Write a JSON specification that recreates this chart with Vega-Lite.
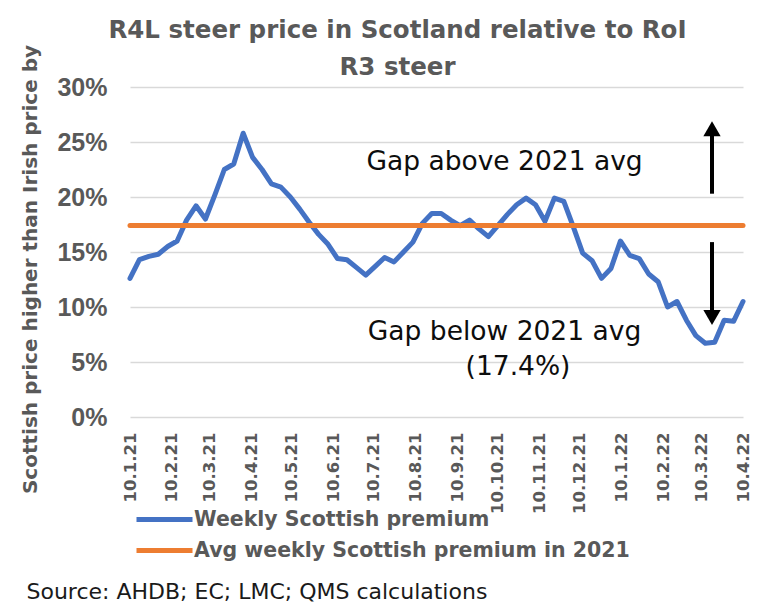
{
  "$schema": "https://vega.github.io/schema/vega-lite/v6.json",
  "width": 613,
  "height": 330,
  "autosize": {"type": "none"},
  "padding": {"left": 130, "top": 87, "right": 15, "bottom": 194},
  "background": "white",
  "config": {"view": {"stroke": null}},
  "title": {
    "text": ["R4L steer price in Scotland relative to RoI", "R3 steer"],
    "font": "DejaVu Sans",
    "fontSize": 24.5,
    "fontWeight": "bold",
    "color": "#595959",
    "anchor": "middle",
    "frame": "group",
    "dx": -39,
    "dy": 42,
    "offset": 6,
    "lineHeight": 37
  },
  "datasets": {
    "series": [
      {"date": "2021-01-10T00:00", "value": 0.126, "series": "Weekly Scottish premium"},
      {"date": "2021-01-17T00:00", "value": 0.143, "series": "Weekly Scottish premium"},
      {"date": "2021-01-24T00:00", "value": 0.146, "series": "Weekly Scottish premium"},
      {"date": "2021-01-31T00:00", "value": 0.148, "series": "Weekly Scottish premium"},
      {"date": "2021-02-07T00:00", "value": 0.155, "series": "Weekly Scottish premium"},
      {"date": "2021-02-14T00:00", "value": 0.160, "series": "Weekly Scottish premium"},
      {"date": "2021-02-21T00:00", "value": 0.179, "series": "Weekly Scottish premium"},
      {"date": "2021-02-28T00:00", "value": 0.192, "series": "Weekly Scottish premium"},
      {"date": "2021-03-07T00:00", "value": 0.180, "series": "Weekly Scottish premium"},
      {"date": "2021-03-14T00:00", "value": 0.202, "series": "Weekly Scottish premium"},
      {"date": "2021-03-21T00:00", "value": 0.225, "series": "Weekly Scottish premium"},
      {"date": "2021-03-28T00:00", "value": 0.230, "series": "Weekly Scottish premium"},
      {"date": "2021-04-04T00:00", "value": 0.258, "series": "Weekly Scottish premium"},
      {"date": "2021-04-11T00:00", "value": 0.236, "series": "Weekly Scottish premium"},
      {"date": "2021-04-18T00:00", "value": 0.225, "series": "Weekly Scottish premium"},
      {"date": "2021-04-25T00:00", "value": 0.212, "series": "Weekly Scottish premium"},
      {"date": "2021-05-02T00:00", "value": 0.209, "series": "Weekly Scottish premium"},
      {"date": "2021-05-09T00:00", "value": 0.200, "series": "Weekly Scottish premium"},
      {"date": "2021-05-16T00:00", "value": 0.189, "series": "Weekly Scottish premium"},
      {"date": "2021-05-23T00:00", "value": 0.177, "series": "Weekly Scottish premium"},
      {"date": "2021-05-30T00:00", "value": 0.166, "series": "Weekly Scottish premium"},
      {"date": "2021-06-06T00:00", "value": 0.157, "series": "Weekly Scottish premium"},
      {"date": "2021-06-13T00:00", "value": 0.144, "series": "Weekly Scottish premium"},
      {"date": "2021-06-20T00:00", "value": 0.143, "series": "Weekly Scottish premium"},
      {"date": "2021-06-27T00:00", "value": 0.136, "series": "Weekly Scottish premium"},
      {"date": "2021-07-04T00:00", "value": 0.129, "series": "Weekly Scottish premium"},
      {"date": "2021-07-11T00:00", "value": 0.137, "series": "Weekly Scottish premium"},
      {"date": "2021-07-18T00:00", "value": 0.145, "series": "Weekly Scottish premium"},
      {"date": "2021-07-25T00:00", "value": 0.141, "series": "Weekly Scottish premium"},
      {"date": "2021-08-01T00:00", "value": 0.150, "series": "Weekly Scottish premium"},
      {"date": "2021-08-08T00:00", "value": 0.159, "series": "Weekly Scottish premium"},
      {"date": "2021-08-15T00:00", "value": 0.176, "series": "Weekly Scottish premium"},
      {"date": "2021-08-22T00:00", "value": 0.185, "series": "Weekly Scottish premium"},
      {"date": "2021-08-29T00:00", "value": 0.185, "series": "Weekly Scottish premium"},
      {"date": "2021-09-05T00:00", "value": 0.179, "series": "Weekly Scottish premium"},
      {"date": "2021-09-12T00:00", "value": 0.174, "series": "Weekly Scottish premium"},
      {"date": "2021-09-19T00:00", "value": 0.179, "series": "Weekly Scottish premium"},
      {"date": "2021-09-26T00:00", "value": 0.171, "series": "Weekly Scottish premium"},
      {"date": "2021-10-03T00:00", "value": 0.164, "series": "Weekly Scottish premium"},
      {"date": "2021-10-10T00:00", "value": 0.174, "series": "Weekly Scottish premium"},
      {"date": "2021-10-17T00:00", "value": 0.184, "series": "Weekly Scottish premium"},
      {"date": "2021-10-24T00:00", "value": 0.193, "series": "Weekly Scottish premium"},
      {"date": "2021-10-31T00:00", "value": 0.199, "series": "Weekly Scottish premium"},
      {"date": "2021-11-07T00:00", "value": 0.193, "series": "Weekly Scottish premium"},
      {"date": "2021-11-14T00:00", "value": 0.178, "series": "Weekly Scottish premium"},
      {"date": "2021-11-21T00:00", "value": 0.199, "series": "Weekly Scottish premium"},
      {"date": "2021-11-28T00:00", "value": 0.196, "series": "Weekly Scottish premium"},
      {"date": "2021-12-05T00:00", "value": 0.173, "series": "Weekly Scottish premium"},
      {"date": "2021-12-12T00:00", "value": 0.149, "series": "Weekly Scottish premium"},
      {"date": "2021-12-19T00:00", "value": 0.142, "series": "Weekly Scottish premium"},
      {"date": "2021-12-26T00:00", "value": 0.126, "series": "Weekly Scottish premium"},
      {"date": "2022-01-02T00:00", "value": 0.135, "series": "Weekly Scottish premium"},
      {"date": "2022-01-09T00:00", "value": 0.160, "series": "Weekly Scottish premium"},
      {"date": "2022-01-16T00:00", "value": 0.147, "series": "Weekly Scottish premium"},
      {"date": "2022-01-23T00:00", "value": 0.144, "series": "Weekly Scottish premium"},
      {"date": "2022-01-30T00:00", "value": 0.130, "series": "Weekly Scottish premium"},
      {"date": "2022-02-06T00:00", "value": 0.123, "series": "Weekly Scottish premium"},
      {"date": "2022-02-13T00:00", "value": 0.100, "series": "Weekly Scottish premium"},
      {"date": "2022-02-20T00:00", "value": 0.105, "series": "Weekly Scottish premium"},
      {"date": "2022-02-27T00:00", "value": 0.088, "series": "Weekly Scottish premium"},
      {"date": "2022-03-06T00:00", "value": 0.074, "series": "Weekly Scottish premium"},
      {"date": "2022-03-13T00:00", "value": 0.067, "series": "Weekly Scottish premium"},
      {"date": "2022-03-20T00:00", "value": 0.068, "series": "Weekly Scottish premium"},
      {"date": "2022-03-27T00:00", "value": 0.088, "series": "Weekly Scottish premium"},
      {"date": "2022-04-03T00:00", "value": 0.087, "series": "Weekly Scottish premium"},
      {"date": "2022-04-10T00:00", "value": 0.105, "series": "Weekly Scottish premium"}
    ],
    "avg": [
      {"date": "2021-01-10T00:00", "value": 0.174, "avgseries": "Avg weekly Scottish premium in 2021"},
      {"date": "2022-04-10T00:00", "value": 0.174, "avgseries": "Avg weekly Scottish premium in 2021"}
    ],
    "shafts": [
      {"date": "2022-03-18T00:00", "value": 0.203, "value2": 0.259},
      {"date": "2022-03-18T00:00", "value": 0.159, "value2": 0.093}
    ],
    "heads": [
      {"date": "2022-03-18T00:00", "value": 0.262, "dir": "up"},
      {"date": "2022-03-18T00:00", "value": 0.0905, "dir": "down"}
    ],
    "notes": [
      {"date": "2021-10-15T00:00", "value": 0.2245, "label": "Gap above 2021 avg"},
      {"date": "2021-10-15T00:00", "value": 0.070, "label": "Gap below 2021 avg"},
      {"date": "2021-10-25T00:00", "value": 0.038, "label": "(17.4%)"}
    ]
  },
  "layer": [
    {
      "data": {"name": "series"},
      "mark": {"type": "line", "strokeWidth": 5, "strokeCap": "round", "strokeJoin": "round"},
      "encoding": {
        "x": {
          "field": "date",
          "type": "temporal",
          "scale": {
            "domain": [{"year": 2021, "month": 1, "date": 10}, {"year": 2022, "month": 4, "date": 10}],
            "nice": false
          },
          "axis": {
            "values": [
              {"year": 2021, "month": 1, "date": 10},
              {"year": 2021, "month": 2, "date": 10},
              {"year": 2021, "month": 3, "date": 10},
              {"year": 2021, "month": 4, "date": 10},
              {"year": 2021, "month": 5, "date": 10},
              {"year": 2021, "month": 6, "date": 10},
              {"year": 2021, "month": 7, "date": 10},
              {"year": 2021, "month": 8, "date": 10},
              {"year": 2021, "month": 9, "date": 10},
              {"year": 2021, "month": 10, "date": 10},
              {"year": 2021, "month": 11, "date": 10},
              {"year": 2021, "month": 12, "date": 10},
              {"year": 2022, "month": 1, "date": 10},
              {"year": 2022, "month": 2, "date": 10},
              {"year": 2022, "month": 3, "date": 10},
              {"year": 2022, "month": 4, "date": 10}
            ],
            "format": "%-d.%-m.%y",
            "labelAngle": -90,
            "labelFont": "DejaVu Sans",
            "labelFontWeight": "bold",
            "labelFontSize": 16.5,
            "labelColor": "#595959",
            "labelPadding": 15,
            "labelOverlap": false,
            "labelFlush": false,
            "labelBound": false,
            "ticks": false,
            "domain": false,
            "grid": false,
            "title": "Source: AHDB; EC; LMC; QMS calculations",
            "titleX": -104,
            "titleY": 181,
            "titleAlign": "left",
            "titleAnchor": "start",
            "titleBaseline": "alphabetic",
            "titleFont": "DejaVu Sans",
            "titleFontWeight": "normal",
            "titleFontSize": 22,
            "titleColor": "#1a1a1a"
          }
        },
        "y": {
          "field": "value",
          "type": "quantitative",
          "scale": {"domain": [0, 0.3], "nice": false},
          "axis": {
            "values": [0, 0.05, 0.1, 0.15, 0.2, 0.25, 0.3],
            "format": ".0%",
            "labelFont": "Liberation Sans",
            "labelFontWeight": "bold",
            "labelFontSize": 25,
            "labelColor": "#595959",
            "labelPadding": 23,
            "ticks": false,
            "domain": false,
            "grid": true,
            "gridColor": "#D9D9D9",
            "gridWidth": 1.5,
            "title": "Scottish price higher than Irish price by",
            "titleFont": "DejaVu Sans",
            "titleFontWeight": "bold",
            "titleFontSize": 20,
            "titleColor": "#595959",
            "titleX": -100,
            "titleY": 182,
            "titleAlign": "center",
            "titleBaseline": "middle"
          }
        },
        "stroke": {
          "field": "series",
          "type": "nominal",
          "scale": {"domain": ["Weekly Scottish premium"], "range": ["#4472C4"]},
          "legend": {
            "orient": "none",
            "legendX": 4,
            "legendY": 402,
            "title": null,
            "symbolType": "stroke",
            "symbolSize": 3136,
            "symbolStrokeWidth": 5,
            "labelFont": "DejaVu Sans",
            "labelFontWeight": "bold",
            "labelFontSize": 20.5,
            "labelColor": "#595959",
            "labelOffset": -1,
            "labelLimit": 700
          }
        }
      }
    },
    {
      "data": {"name": "avg"},
      "mark": {"type": "line", "strokeWidth": 5, "strokeCap": "round"},
      "encoding": {
        "x": {"field": "date", "type": "temporal"},
        "y": {"field": "value", "type": "quantitative"},
        "color": {
          "field": "avgseries",
          "type": "nominal",
          "scale": {"domain": ["Avg weekly Scottish premium in 2021"], "range": ["#ED7D31"]},
          "legend": {
            "orient": "none",
            "legendX": 4,
            "legendY": 433,
            "title": null,
            "symbolType": "stroke",
            "symbolSize": 3136,
            "symbolStrokeWidth": 5,
            "labelFont": "DejaVu Sans",
            "labelFontWeight": "bold",
            "labelFontSize": 20.5,
            "labelColor": "#595959",
            "labelOffset": -1,
            "labelLimit": 700
          }
        }
      }
    },
    {
      "data": {"name": "shafts"},
      "mark": {"type": "rule", "strokeWidth": 4, "color": "black"},
      "encoding": {
        "x": {"field": "date", "type": "temporal"},
        "y": {"field": "value", "type": "quantitative"},
        "y2": {"field": "value2"}
      }
    },
    {
      "data": {"name": "heads"},
      "mark": {"type": "point", "filled": true, "color": "black", "opacity": 1, "size": 300},
      "encoding": {
        "x": {"field": "date", "type": "temporal"},
        "y": {"field": "value", "type": "quantitative"},
        "shape": {
          "field": "dir",
          "type": "nominal",
          "scale": {"domain": ["up", "down"], "range": ["triangle-up", "triangle-down"]},
          "legend": null
        }
      }
    },
    {
      "data": {"name": "notes"},
      "mark": {"type": "text", "font": "DejaVu Sans", "fontSize": 26.5, "color": "#0d0d0d", "align": "center", "baseline": "alphabetic"},
      "encoding": {
        "x": {"field": "date", "type": "temporal"},
        "y": {"field": "value", "type": "quantitative"},
        "text": {"field": "label"}
      }
    }
  ]
}
